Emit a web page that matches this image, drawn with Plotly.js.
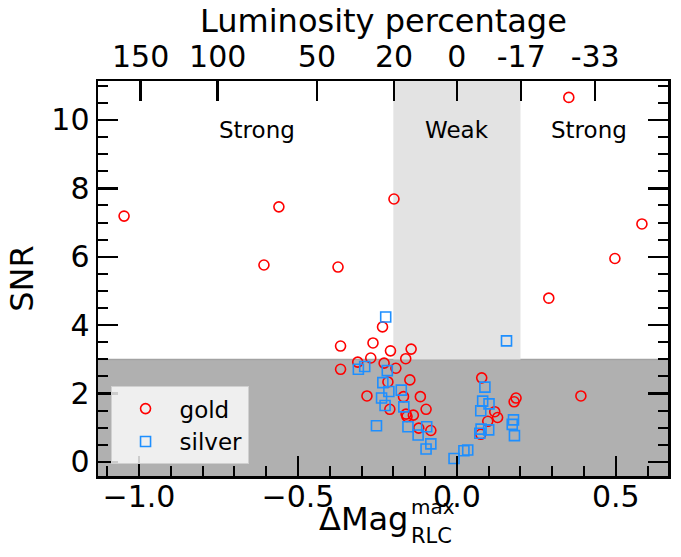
<!DOCTYPE html>
<html>
<head>
<meta charset="utf-8">
<script src="https://cdn.plot.ly/plotly-3.0.1.min.js"></script>
<style>html,body{margin:0;padding:0;background:#fff;}#chart{width:681px;height:557px;}</style>
</head>
<body>
<div id="chart"></div>
<script>
// ---- data ----
const goldX = [-1.047, -0.560, -0.607, -0.374, -0.198, 0.352, 0.582, 0.497, 0.289, 0.390,
  -0.234, -0.366, -0.264, -0.209, -0.144, -0.271, -0.161, -0.312, -0.366, -0.229,
  -0.192, -0.217, -0.148, -0.283, -0.168, -0.115, -0.211, -0.097, -0.160, -0.137,
  -0.157, -0.120, -0.082, 0.078, 0.119, 0.128, 0.097, 0.075, 0.186, 0.180];
const goldY = [7.19, 7.46, 5.76, 5.70, 7.69, 10.66, 6.96, 5.95, 4.79, 1.93,
  3.95, 3.39, 3.48, 3.25, 3.30, 3.04, 3.02, 2.92, 2.71, 2.89,
  2.74, 2.34, 2.40, 1.93, 1.91, 1.91, 1.54, 1.54, 1.40, 1.37,
  1.33, 0.99, 0.92, 2.46, 1.47, 1.30, 1.19, 0.81, 1.87, 1.76];
const silverX = [-0.224, 0.156, -0.290, -0.310, -0.219, -0.233, -0.214, -0.175, -0.237, -0.226,
  -0.167, -0.253, -0.154, -0.095, -0.122, -0.082, -0.097, -0.009, 0.022, 0.034,
  0.088, 0.081, 0.101, 0.075, 0.076, 0.100, 0.072, 0.178, 0.174, 0.181];
const silverY = [4.24, 3.54, 2.79, 2.71, 2.67, 2.32, 2.06, 2.10, 1.87, 1.65,
  1.61, 1.06, 1.03, 1.03, 0.79, 0.53, 0.38, 0.10, 0.33, 0.35,
  2.19, 1.78, 1.70, 1.50, 0.96, 0.94, 0.84, 1.23, 1.10, 0.77];
const lumPercent = [150, 100, 50, 20, 0, -17, -33];
const lumLabels = ['150', '100', '50', '20', '0', '-17', '-33'];
const regionLabels = ['Strong', 'Weak', 'Strong'];
const snrThreshold = 3;
const weakLimit = 0.2;

// ---- derived ----
const lumTickVals = lumPercent.map(p => -2.5 * Math.log10(1 + p / 100));
const xRange = [-1.129, 0.664];
const yRange = [-0.41, 11.14];
const FONT = 'DejaVu Sans';

const traces = [
  {x: goldX, y: goldY, type: 'scatter', mode: 'markers', name: 'gold',
   marker: {symbol: 'circle-open', size: 10, color: '#ff0000', line: {width: 1.6}}},
  {x: silverX, y: silverY, type: 'scatter', mode: 'markers', name: 'silver',
   marker: {symbol: 'square-open', size: 10, color: '#1e8fff', line: {width: 1.6}}},
  {x: [xRange[0]], y: [yRange[0]], xaxis: 'x2', yaxis: 'y', mode: 'markers',
   marker: {opacity: 0}, showlegend: false, hoverinfo: 'skip'}
];

const tickCommon = {ticks: 'inside', ticklen: 20, tickwidth: 2.5, tickcolor: '#000',
  showgrid: false, zeroline: false, linecolor: '#000', linewidth: 2.5};

const layout = {
  width: 681, height: 557,
  margin: {l: 98, r: 13, t: 81, b: 81},
  paper_bgcolor: '#fff', plot_bgcolor: '#fff',
  font: {family: FONT, size: 30, color: '#000'},
  showlegend: true,
  legend: {x: 0.022, y: 0.03, xanchor: 'left', yanchor: 'bottom',
    bgcolor: 'rgba(255,255,255,0.8)', bordercolor: '#d0d0d0', borderwidth: 1,
    font: {family: FONT, size: 23}, itemwidth: 58, tracegroupgap: 4},
  xaxis: Object.assign({}, tickCommon, {
    range: xRange, dtick: 0.5, tick0: 0, tickformat: '.1f', showline: true, mirror: true,
    tickfont: {family: FONT, size: 30}, ticklabelstandoff: -8,
    minor: {dtick: 0.1, ticks: 'inside', ticklen: 10, tickwidth: 2, tickcolor: '#000'}
  }),
  xaxis2: Object.assign({}, tickCommon, {
    range: xRange, overlaying: 'x', side: 'top', anchor: 'y', showline: false,
    tickmode: 'array', tickvals: lumTickVals, ticktext: lumLabels,
    tickfont: {family: FONT, size: 30}, ticklabelstandoff: 7
  }),
  yaxis: Object.assign({}, tickCommon, {
    range: yRange, dtick: 2, tick0: 0, showline: true, mirror: 'ticks',
    tickfont: {family: FONT, size: 30},
    title: {text: 'SNR', font: {family: FONT, size: 32}, standoff: 8},
    minor: {dtick: 0.5, ticks: 'inside', ticklen: 10, tickwidth: 2, tickcolor: '#000'}
  }),
  shapes: [
    {type: 'rect', layer: 'below', xref: 'paper', x0: 0, x1: 1, yref: 'y', y0: yRange[0] - 1, y1: snrThreshold,
     fillcolor: '#b0b0b0', line: {width: 0}},
    {type: 'line', layer: 'below', xref: 'paper', x0: 0, x1: 1, yref: 'y', y0: snrThreshold, y1: snrThreshold,
     line: {color: '#a2a2a2', width: 1.5}},
    {type: 'rect', layer: 'below', xref: 'x', x0: -weakLimit, x1: weakLimit, yref: 'y', y0: snrThreshold, y1: yRange[1] + 1,
     fillcolor: '#e3e3e3', line: {width: 0}}
  ],
  annotations: [
    {xref: 'x', yref: 'y', x: -0.63, y: 9.7, text: regionLabels[0], showarrow: false, font: {family: FONT, size: 23}},
    {xref: 'x', yref: 'y', x: 0.0, y: 9.7, text: regionLabels[1], showarrow: false, font: {family: FONT, size: 23}},
    {xref: 'x', yref: 'y', x: 0.415, y: 9.7, text: regionLabels[2], showarrow: false, font: {family: FONT, size: 23}},
    {xref: 'paper', yref: 'paper', x: 0.5, y: 1, yshift: 60, xanchor: 'center', yanchor: 'middle',
     text: 'Luminosity percentage', showarrow: false, borderpad: 0, font: {family: FONT, size: 32}},
    {xref: 'paper', yref: 'paper', x: 0.545, y: 0, yshift: -43, xanchor: 'right', yanchor: 'middle',
     text: 'ΔMag', showarrow: false, borderpad: 0, font: {family: FONT, size: 32}},
    {xref: 'paper', yref: 'paper', x: 0.548, y: 0, yshift: -31, xanchor: 'left', yanchor: 'middle',
     text: 'max', showarrow: false, borderpad: 0, font: {family: FONT, size: 20}},
    {xref: 'paper', yref: 'paper', x: 0.548, y: 0, yshift: -60, xanchor: 'left', yanchor: 'middle',
     text: 'RLC', showarrow: false, borderpad: 0, font: {family: FONT, size: 21}}
  ]
};

Plotly.newPlot('chart', traces, layout, {staticPlot: true, displayModeBar: false});
</script>
</body>
</html>
